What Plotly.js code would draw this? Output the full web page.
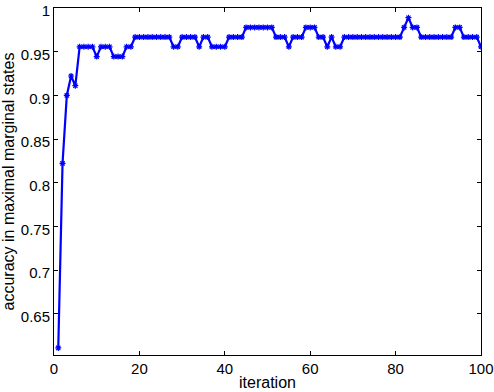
<!DOCTYPE html>
<html>
<head>
<meta charset="utf-8">
<script src="https://cdn.plot.ly/plotly-3.0.1.min.js"></script>
<style>html,body{margin:0;padding:0;background:#fff;}#chart{width:494px;height:392px;}</style>
</head>
<body>
<div id="chart"></div>
<script>
const iterations = Array.from({length: 100}, (_, i) => i + 1);
const accuracy = [
  0.6111, 0.8222, 0.9000, 0.9222, 0.9111, 0.9556, 0.9556, 0.9556, 0.9556, 0.9444,
  0.9556, 0.9556, 0.9556, 0.9444, 0.9444, 0.9444, 0.9556, 0.9556, 0.9667, 0.9667,
  0.9667, 0.9667, 0.9667, 0.9667, 0.9667, 0.9667, 0.9667, 0.9556, 0.9556, 0.9667,
  0.9667, 0.9667, 0.9667, 0.9556, 0.9667, 0.9667, 0.9556, 0.9556, 0.9556, 0.9556,
  0.9667, 0.9667, 0.9667, 0.9667, 0.9778, 0.9778, 0.9778, 0.9778, 0.9778, 0.9778,
  0.9778, 0.9667, 0.9667, 0.9667, 0.9556, 0.9667, 0.9667, 0.9667, 0.9778, 0.9778,
  0.9778, 0.9667, 0.9667, 0.9556, 0.9667, 0.9556, 0.9556, 0.9667, 0.9667, 0.9667,
  0.9667, 0.9667, 0.9667, 0.9667, 0.9667, 0.9667, 0.9667, 0.9667, 0.9667, 0.9667,
  0.9667, 0.9778, 0.9889, 0.9778, 0.9778, 0.9667, 0.9667, 0.9667, 0.9667, 0.9667,
  0.9667, 0.9667, 0.9667, 0.9778, 0.9778, 0.9667, 0.9667, 0.9667, 0.9667, 0.9556
];
const xTicks = [0, 20, 40, 60, 80, 100];
const yTicks = [0.65, 0.7, 0.75, 0.8, 0.85, 0.9, 0.95, 1];
const yTickText = ['0.65', '0.7', '0.75', '0.8', '0.85', '0.9', '0.95', '1'];

const titleFont = {family: 'Liberation Sans, Arial, sans-serif', size: 16, color: '#000'};
const tickFont = {family: 'Liberation Sans, Arial, sans-serif', size: 15, color: '#000'};

const trace = {
  x: iterations, y: accuracy, type: 'scatter', mode: 'lines+markers',
  line: {color: '#0000ff', width: 2.2},
  marker: {symbol: 'asterisk-open', size: 5, color: '#0000ff', line: {color: '#0000ff', width: 1.2}},
  showlegend: false
};

const axisBase = {
  showgrid: false, zeroline: false, showline: true, linecolor: '#000', linewidth: 1,
  mirror: 'ticks', ticks: 'inside', ticklen: 4, tickcolor: '#000', tickwidth: 1,
  tickfont: tickFont, automargin: false, ticklabeloverflow: 'allow'
};

const layout = {
  width: 494, height: 392,
  margin: {l: 54, r: 13, t: 8, b: 37},
  paper_bgcolor: '#fff', plot_bgcolor: '#fff',
  font: tickFont,
  xaxis: Object.assign({}, axisBase, {
    range: [0, 100], tickvals: xTicks,
    title: {text: 'iteration', font: titleFont, standoff: 0}
  }),
  yaxis: Object.assign({}, axisBase, {
    range: [0.603, 1], tickvals: yTicks, ticktext: yTickText, ticklabelshift: 3,
    title: {text: 'accuracy in maximal marginal states', font: titleFont, standoff: 3}
  })
};

Plotly.newPlot('chart', [trace], layout, {displayModeBar: false, staticPlot: true});
</script>
</body>
</html>
